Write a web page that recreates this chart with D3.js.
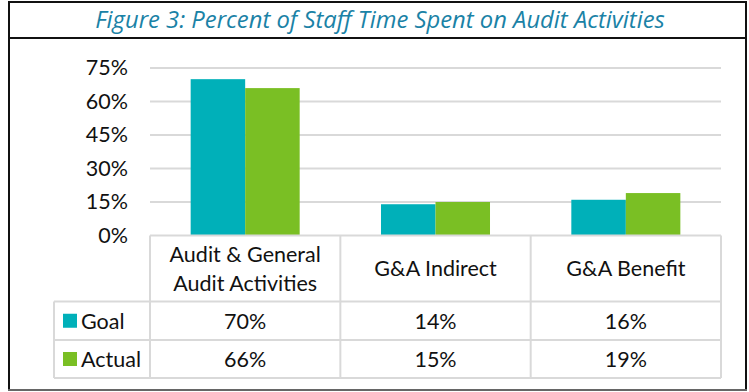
<!DOCTYPE html>
<html>
<head>
<meta charset="utf-8">
<script src="https://cdn.jsdelivr.net/npm/d3@7/dist/d3.min.js"></script>
<style>
  html, body { margin: 0; padding: 0; background: #fff; }
  svg { display: block; }
</style>
</head>
<body>
<svg id="chart" width="749" height="392"></svg>
<script>
// Chart data
const title = "Figure 3: Percent of Staff Time Spent on Audit Activities";
const categories = [["Audit & General", "Audit Activities"], ["G&A Indirect"], ["G&A Benefit"]];
const seriesNames = ["Goal", "Actual"];
const goalValues = [70, 14, 16];
const actualValues = [66, 15, 19];
const yTicks = [0, 15, 30, 45, 60, 75];
const colors = ["#00b0b9", "#7abf24"];

const series = [goalValues, actualValues];
const catKeys = categories.map(c => c.join(" "));

const svg = d3.select("#chart");
const font = "Lato, 'Liberation Sans', sans-serif";
const fontSize = 21.5;
const gridColor = "#d9d9d9";

// Plot geometry
const plotLeft = 150, plotRight = 721, plotTop = 68, plotBase = 235.5;
const rowH = [235.5, 301.5, 340, 378];

const x0 = d3.scaleBand().domain(catKeys).range([plotLeft, plotRight]).paddingInner(0).paddingOuter(0);
const x1 = d3.scaleBand().domain(seriesNames).range([0, x0.bandwidth()]).paddingInner(0).paddingOuter(0.746);
const y = d3.scaleLinear().domain([0, 75]).range([plotBase, plotTop]);

// Frame
svg.append("line").attr("x1", 9).attr("x2", 9).attr("y1", 1).attr("y2", 391)
  .attr("stroke", "#111").attr("stroke-width", 2);
svg.append("line").attr("x1", 746).attr("x2", 746).attr("y1", 1).attr("y2", 391)
  .attr("stroke", "#111").attr("stroke-width", 2);
svg.append("line").attr("x1", 8).attr("x2", 747).attr("y1", 2).attr("y2", 2)
  .attr("stroke", "#111").attr("stroke-width", 2);
svg.append("line").attr("x1", 8).attr("x2", 747).attr("y1", 38).attr("y2", 38)
  .attr("stroke", "#111").attr("stroke-width", 2);
svg.append("line").attr("x1", 8).attr("x2", 747).attr("y1", 390).attr("y2", 390)
  .attr("stroke", "#666").attr("stroke-width", 2);

// Title
const t = svg.append("text").attr("x", 380).attr("y", 28)
  .attr("text-anchor", "middle")
  .attr("font-family", "'Open Sans', sans-serif").attr("font-style", "italic")
  .attr("font-size", 21).attr("fill", "#1a82a6").text(title);
const tw = t.node().getComputedTextLength();
t.attr("font-size", 21 * 570 / tw);

// Gridlines and y axis
const yAxis = d3.axisLeft(y).tickValues(yTicks).tickSize(0).tickPadding(0).tickFormat(d => d + "%");
const gAxis = svg.append("g").attr("transform", "translate(128,0)").call(yAxis);
gAxis.select(".domain").remove();
gAxis.selectAll("text").attr("font-family", font).attr("font-size", fontSize).attr("fill", "#111");

svg.append("g").selectAll("line").data(yTicks.filter(d => d > 0)).join("line")
  .attr("x1", plotLeft).attr("x2", plotRight)
  .attr("y1", d => y(d)).attr("y2", d => y(d))
  .attr("stroke", gridColor).attr("stroke-width", 2);

// Bars
const groups = svg.append("g").selectAll("g").data(catKeys).join("g")
  .attr("transform", d => `translate(${x0(d)},0)`);
groups.selectAll("rect").data((d, i) => seriesNames.map((s, j) => ({ s, v: series[j][i], j })))
  .join("rect")
  .attr("x", d => x1(d.s)).attr("width", x1.bandwidth())
  .attr("y", d => y(d.v)).attr("height", d => plotBase - y(d.v))
  .attr("fill", d => colors[d.j]);

// Data table
const tbl = svg.append("g").attr("stroke", gridColor).attr("stroke-width", 2);
tbl.append("line").attr("x1", plotLeft).attr("x2", plotRight).attr("y1", rowH[0]).attr("y2", rowH[0]);
[rowH[1], rowH[2], rowH[3]].forEach(yy => {
  tbl.append("line").attr("x1", 54).attr("x2", plotRight).attr("y1", yy).attr("y2", yy);
});
catKeys.map(k => x0(k)).concat([plotRight]).forEach(xx => {
  tbl.append("line").attr("x1", xx).attr("x2", xx).attr("y1", rowH[0]).attr("y2", rowH[3]);
});
tbl.append("line").attr("x1", 54).attr("x2", 54).attr("y1", rowH[1]).attr("y2", rowH[3]);

// Category headers
const hdr = svg.append("g").attr("font-family", font).attr("font-size", fontSize).attr("fill", "#111")
  .attr("text-anchor", "middle");
categories.forEach((lines, i) => {
  const cx = x0(catKeys[i]) + x0.bandwidth() / 2;
  const mid = (rowH[0] + rowH[1]) / 2;
  const lh = 29;
  lines.forEach((ln, k) => {
    hdr.append("text").attr("x", cx)
      .attr("y", mid + (k - (lines.length - 1) / 2) * lh + 7.5)
      .text(ln);
  });
});

// Value rows with legend keys
seriesNames.forEach((name, j) => {
  const r0 = rowH[j + 1], r1 = rowH[j + 2];
  const mid = (r0 + r1) / 2;
  svg.append("rect").attr("x", 63).attr("y", mid - 7).attr("width", 14).attr("height", 14)
    .attr("fill", colors[j]);
  svg.append("text").attr("x", 81).attr("y", mid + 8)
    .attr("font-family", font).attr("font-size", fontSize).attr("fill", "#111").text(name);
  series[j].forEach((v, i) => {
    svg.append("text").attr("x", x0(catKeys[i]) + x0.bandwidth() / 2).attr("y", mid + 8)
      .attr("text-anchor", "middle")
      .attr("font-family", font).attr("font-size", fontSize).attr("fill", "#111").text(v + "%");
  });
});
</script>
</body>
</html>
